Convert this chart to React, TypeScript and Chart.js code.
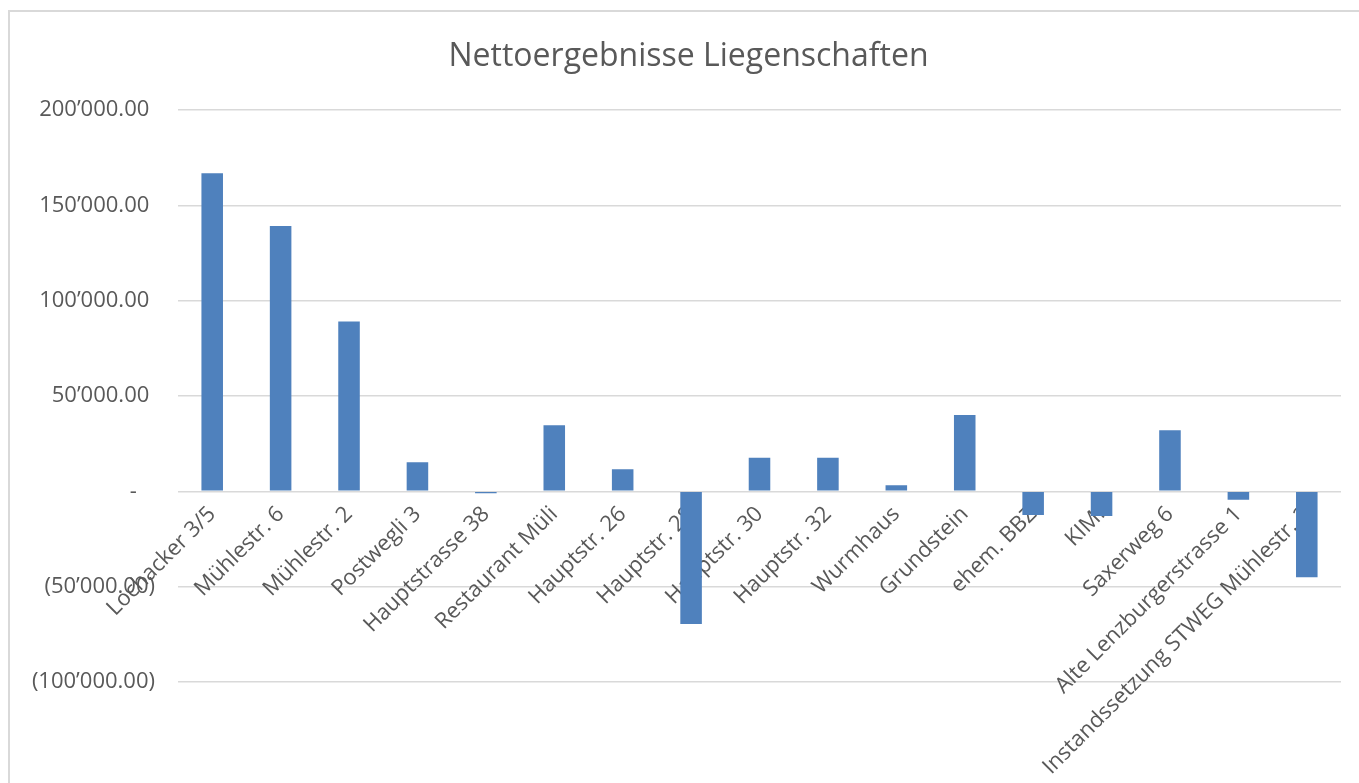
import React, { useEffect, useRef } from "react";
import { Chart, registerables } from "chart.js";

Chart.register(...registerables);

const categories = [
  "Lochacker 3/5",
  "Mühlestr. 6",
  "Mühlestr. 2",
  "Postwegli 3",
  "Hauptstrasse 38",
  "Restaurant Müli",
  "Hauptstr. 26",
  "Hauptstr. 28",
  "Hauptstr. 30",
  "Hauptstr. 32",
  "Wurmhaus",
  "Grundstein",
  "ehem. BBZ",
  "KIMI",
  "Saxerweg 6",
  "Alte Lenzburgerstrasse 1",
  "Instandssetzung STWEG Mühlestr. 2",
];

const values = [
  166800, 139200, 89000, 15200, -1000, 34600, 11500, -69600, 17600, 17600,
  3100, 40000, -12400, -13000, 32000, -4400, -45100,
];

const yTicks = [-100000, -50000, 0, 50000, 100000, 150000, 200000];
const yMin = -146100;
const yMax = 200000;

const FONT = "'Open Sans', 'Noto Sans', sans-serif";
const TEXT = "#595959";
const GRID = "#d9d9d9";
const BAR = "#4F81BD";

function group(n: number): string {
  return Math.round(n)
    .toString()
    .replace(/\B(?=(\d{3})+(?!\d))/g, "\u2019");
}

function formatTick(v: number): string {
  if (v === 0) return "-\u2007 ";
  if (v < 0) return "(" + group(-v) + ".00)";
  return group(v) + ".00 ";
}

// let the y tick labels use the full space left of the plot (not clipped to the axis box)
const widenYLabelArea = {
  id: "widenYLabelArea",
  afterLayout(chart: any) {
    const y = chart.scales.y;
    if (y) y.left = 0;
  },
};

export default function App() {
  const ref = useRef<HTMLCanvasElement>(null);

  useEffect(() => {
    if (!ref.current) return;
    const chart = new Chart(ref.current, {
      type: "bar",
      data: {
        labels: categories,
        datasets: [
          {
            data: values,
            backgroundColor: BAR,
            borderWidth: 0,
            barPercentage: 0.315,
            categoryPercentage: 1,
          },
        ],
      },
      plugins: [widenYLabelArea],
      options: {
        responsive: false,
        animation: false,
        devicePixelRatio: 1,
        layout: { padding: { left: 36, right: 18, top: 0, bottom: 13 } },
        plugins: {
          legend: { display: false },
          tooltip: { enabled: false },
          title: {
            display: true,
            text: "Nettoergebnisse Liegenschaften",
            color: TEXT,
            font: { family: FONT, size: 32, weight: "normal" as any },
            padding: { top: 38, bottom: 33.6 },
          },
        },
        scales: {
          x: {
            position: { y: 0 } as any,
            grid: { display: false, drawTicks: false },
            border: { display: false },
            ticks: {
              autoSkip: false,
              minRotation: 45,
              maxRotation: 45,
              color: TEXT,
              font: { family: FONT, size: 22 },
              padding: 10,
            },
            afterFit: (s: any) => {
              s.height = 0;
            },
          },
          y: {
            min: yMin,
            max: yMax,
            ticks: {
              color: TEXT,
              font: { family: FONT, size: 22 },
              padding: 0,
              callback: (v: any) => formatTick(Number(v)),
            },
            afterBuildTicks: (s: any) => {
              s.ticks = yTicks.map((v) => ({ value: v }));
            },
            grid: {
              color: GRID,
              lineWidth: 1.5,
              drawTicks: true,
              tickLength: 23,
              tickColor: "rgba(0,0,0,0)",
            },
            border: { display: false },
            afterFit: (s: any) => {
              s.width = 142;
            },
          },
        },
      },
    });
    return () => chart.destroy();
  }, []);

  return (
    <div
      style={{
        position: "fixed",
        left: 0,
        top: 0,
        width: 1359,
        height: 783,
        overflow: "hidden",
        background: "#fff",
      }}
    >
      <div
        style={{
          position: "absolute",
          left: 8,
          top: 10,
          width: 1400,
          height: 800,
          borderLeft: "2px solid " + GRID,
          borderTop: "2px solid " + GRID,
        }}
      />
      <canvas
        ref={ref}
        width={1359}
        height={783}
        style={{ position: "absolute", left: 0, top: 0, width: 1359, height: 783 }}
      />
    </div>
  );
}
